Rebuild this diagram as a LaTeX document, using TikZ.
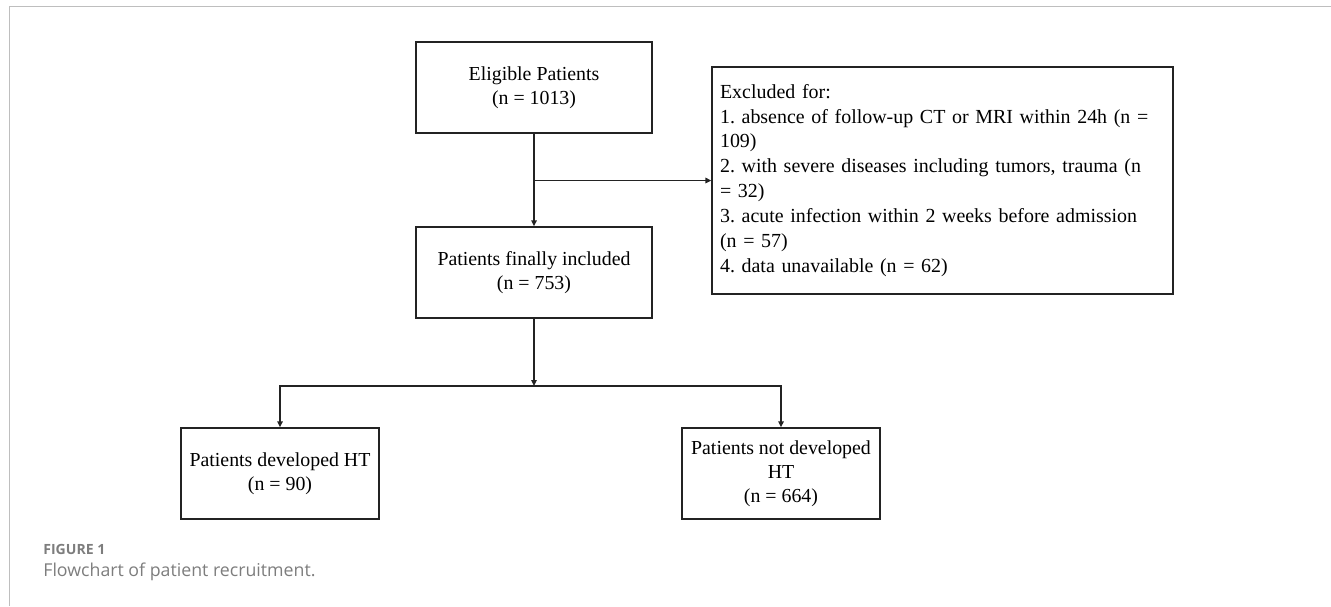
\documentclass[tikz,border=0pt]{standalone}
\usepackage{fontspec}
\setmainfont{Liberation Serif}
\newfontfamily\capfont{Open Sans}
\usepackage{xcolor}
\usepackage{tikz}
\usetikzlibrary{arrows.meta, positioning, calc}
\frenchspacing
\definecolor{framegray}{RGB}{190, 190, 190}
\definecolor{captiongray}{RGB}{125, 125, 125}
\definecolor{boxline}{RGB}{35, 35, 35}
\tikzstyle{stage} = [rectangle, draw=boxline, line width=0.8pt, align=center, font=\fontsize{11.3}{13.6}\selectfont]
\tikzstyle{exclbox} = [rectangle, draw=boxline, line width=0.8pt, align=left, inner xsep=0.16cm, text width=8.9cm, minimum height=4.54cm, font=\fontsize{11.35}{14.2}\selectfont]
\tikzstyle{arrow} = [-{Triangle[length=1.2mm, width=1.1mm]}, line width=0.8pt, draw=boxline]

\begin{document}
\begin{tikzpicture}[x=0.02cm, y=-0.02cm]
    \useasboundingbox (0,0) rectangle (1331,606);

    % Frame
    \draw[framegray, line width=0.9pt] (9.5,606) -- (9.5,6.5) -- (1331,6.5);

    % Boxes
    \node[stage, minimum width=4.72cm, minimum height=1.82cm] (elig) at (534,87.5) {Eligible Patients\\(n = 1013)};
    \node[stage, minimum width=4.72cm, minimum height=1.82cm] (incl) at (534,272.5) {Patients finally included\\(n = 753)};
    \node[exclbox] (excl) at (942.5,180.5) {Excluded for:\\1. absence of follow-up CT or MRI within 24h (n =\\109)\\2. with severe diseases including tumors, trauma (n\\= 32)\\3. acute infection within 2 weeks before admission\\(n = 57)\\4. data unavailable (n = 62)};
    \node[stage, minimum width=3.96cm, minimum height=1.82cm] (dev) at (280,473.5) {Patients developed HT\\(n = 90)};
    \node[stage, minimum width=3.96cm, minimum height=1.82cm] (notdev) at (781,473.5) {Patients not developed\\HT\\(n = 664)};

    % Arrows
    \coordinate (exclsplit) at (elig.south |- excl.west);
    \coordinate (htsplit) at (534,386);
    \draw[arrow] (elig) -- (incl);
    \draw[arrow] (exclsplit) -- (excl.west);
    \draw[arrow] (incl) -- (htsplit);
    \draw[arrow] (htsplit) -| (dev);
    \draw[arrow] (htsplit) -| (notdev);

    % Caption
    \node[anchor=base west, inner sep=0pt, text=captiongray, font=\capfont\bfseries\fontsize{8}{9.6}\selectfont] (figlabel) at (43,554) {FIGURE 1};
    \node[anchor=base west, inner sep=0pt, text=captiongray, font=\capfont\fontsize{10.1}{12}\selectfont] (figcaption) at (43,576) {Flowchart of patient recruitment.};
\end{tikzpicture}
\end{document}
